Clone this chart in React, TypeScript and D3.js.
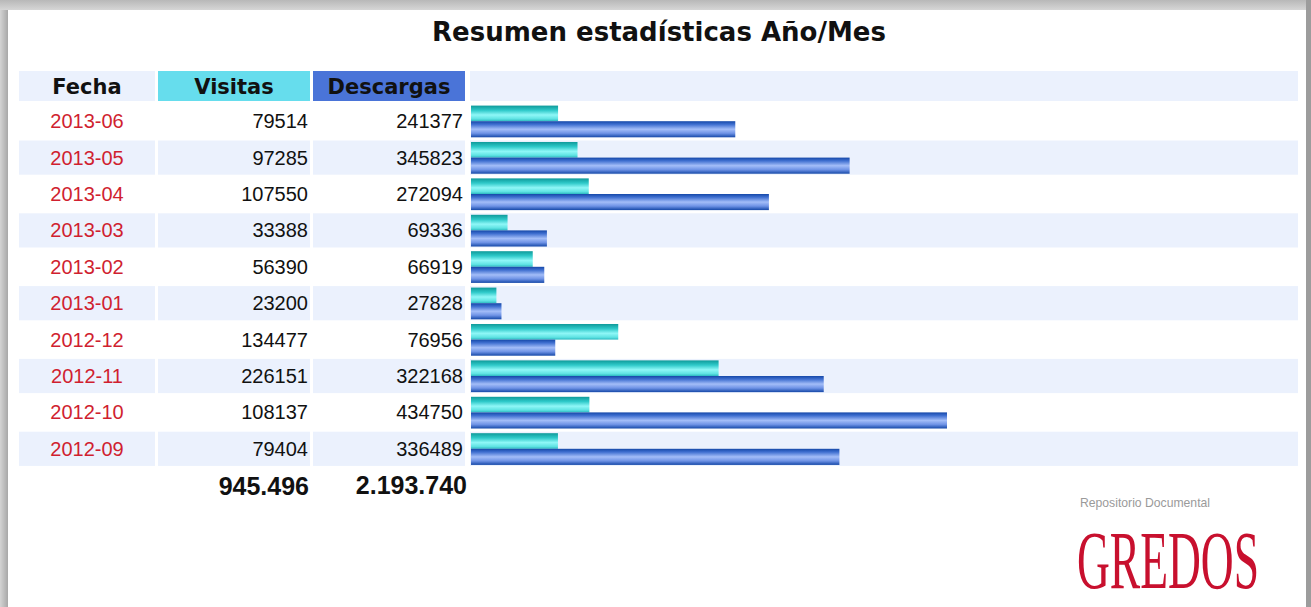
import React from 'react';
import * as d3 from 'd3';

const fechas = ['2013-06', '2013-05', '2013-04', '2013-03', '2013-02', '2013-01', '2012-12', '2012-11', '2012-10', '2012-09'];
const visitas = [79514, 97285, 107550, 33388, 56390, 23200, 134477, 226151, 108137, 79404];
const descargas = [241377, 345823, 272094, 69336, 66919, 27828, 76956, 322168, 434750, 336489];
const headers = ['Fecha', 'Visitas', 'Descargas'];
const title = 'Resumen estadísticas Año/Mes';

const W = 1311;
const H = 607;

const fmt = (v: number) => d3.format(',')(v).replace(/,/g, '.');

export default function App() {
  const y = d3.scaleBand<string>().domain(fechas).range([103, 467]).paddingInner(0.06).paddingOuter(0.03);
  const x = d3.scaleLinear().domain([0, d3.max(descargas) as number]).range([471, 947]);
  const cols = [
    { x0: 19, x1: 155 },
    { x0: 158, x1: 310 },
    { x0: 313, x1: 465 },
    { x0: 470, x1: 1298 },
  ];
  const light = '#ebf1fd';
  const sans = 'Liberation Sans, Arial, sans-serif';
  const verd = 'DejaVu Sans, Verdana, sans-serif';
  const bw = y.bandwidth();
  const totV = d3.sum(visitas);
  const totD = d3.sum(descargas);

  return (
    <svg width={W} height={H} style={{ position: 'absolute', left: 0, top: 0 }}>
      <defs>
        <linearGradient id="topShade" x1="0" y1="0" x2="0" y2="1">
          <stop offset="0" stopColor="#b8b8b8" />
          <stop offset="1" stopColor="#d6d6d6" />
        </linearGradient>
        <linearGradient id="leftShade" x1="0" y1="0" x2="1" y2="0">
          <stop offset="0" stopColor="#d4d4d4" />
          <stop offset="1" stopColor="#a8a8a8" />
        </linearGradient>
        <linearGradient id="gV" x1="0" y1="0" x2="0" y2="1">
          <stop offset="0" stopColor="#0f9a9a" />
          <stop offset="0.3" stopColor="#2ec9c9" />
          <stop offset="0.6" stopColor="#8ff7f7" />
          <stop offset="0.85" stopColor="#5fe3e3" />
          <stop offset="1" stopColor="#2bb8c0" />
        </linearGradient>
        <linearGradient id="gD" x1="0" y1="0" x2="0" y2="1">
          <stop offset="0" stopColor="#1548a8" />
          <stop offset="0.2" stopColor="#3f6fd0" />
          <stop offset="0.5" stopColor="#a3bdf8" />
          <stop offset="0.75" stopColor="#6f93e6" />
          <stop offset="1" stopColor="#1548a8" />
        </linearGradient>
      </defs>
      <rect x={0} y={0} width={W} height={H} fill="#c4c4c4" />
      <rect x={0} y={0} width={8} height={H} fill="url(#leftShade)" />
      <rect x={0} y={0} width={W} height={10} fill="url(#topShade)" />
      <rect x={1306} y={0} width={5} height={H} fill="#9c9c9c" />
      <rect x={8} y={10} width={1298} height={H - 10} fill="#ffffff" />

      <text x={659} y={41} textAnchor="middle" fontFamily={verd} fontWeight="bold" fontSize={26} fill="#111">
        {title}
      </text>

      {/* header */}
      <rect x={cols[0].x0} y={71} width={cols[0].x1 - cols[0].x0} height={30} fill={light} />
      <rect x={cols[1].x0} y={71} width={cols[1].x1 - cols[1].x0} height={30} fill="#66dded" />
      <rect x={cols[2].x0} y={71} width={cols[2].x1 - cols[2].x0} height={30} fill="#4a74d8" />
      <rect x={cols[3].x0} y={71} width={cols[3].x1 - cols[3].x0} height={30} fill={light} />
      {headers.map((h, i) => (
        <text key={h} x={(cols[i].x0 + cols[i].x1) / 2} y={94} textAnchor="middle" fontFamily={verd} fontWeight="bold" fontSize={21} fill="#111">
          {h}
        </text>
      ))}

      {fechas.map((f, i) => {
        const top = y(f) as number;
        const mid = top + bw / 2;
        return (
          <g key={f}>
            {i % 2 === 1 && cols.map((c, j) => (
              <rect key={j} x={c.x0} y={top} width={c.x1 - c.x0} height={bw} fill={light} />
            ))}
            <text x={(cols[0].x0 + cols[0].x1) / 2} y={mid + 7} textAnchor="middle" fontFamily={sans} fontSize={20} fill="#d01f30">
              {f}
            </text>
            <text x={308} y={mid + 7} textAnchor="end" fontFamily={sans} fontSize={20} fill="#111">
              {visitas[i]}
            </text>
            <text x={463} y={mid + 7} textAnchor="end" fontFamily={sans} fontSize={20} fill="#111">
              {descargas[i]}
            </text>
            <rect x={x(0)} y={top + 1.5} width={x(visitas[i]) - x(0)} height={bw / 2 - 1.5} fill="url(#gV)" />
            <rect x={x(0)} y={top + bw / 2} width={x(descargas[i]) - x(0)} height={bw / 2 - 1} fill="url(#gD)" />
          </g>
        );
      })}

      <text x={309} y={495} textAnchor="end" fontFamily={sans} fontWeight="bold" fontSize={25} fill="#111">
        {fmt(totV)}
      </text>
      <text x={467} y={494} textAnchor="end" fontFamily={sans} fontWeight="bold" fontSize={25} fill="#111">
        {fmt(totD)}
      </text>

      {/* logo */}
      <text x={1080} y={507} fontFamily={sans} fontSize={13} fill="#9a9a9a" textLength={130} lengthAdjust="spacingAndGlyphs">
        Repositorio Documental
      </text>
      <text transform="translate(1077,588) scale(1,1.8)" x={0} y={0} fontFamily="Liberation Serif, DejaVu Serif, serif" fontSize={46} fill="#c8102e" textLength={182} lengthAdjust="spacingAndGlyphs">
        GREDOS
      </text>
    </svg>
  );
}
